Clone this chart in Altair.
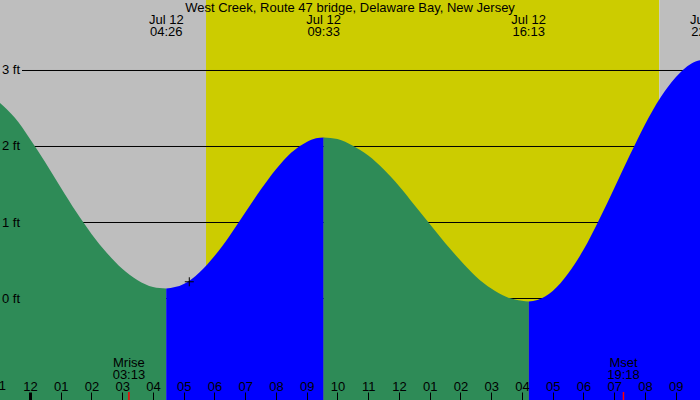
import altair as alt
import pandas as pd

TITLE = "West Creek, Route 47 bridge, Delaware Bay, New Jersey"
FONT = "Liberation Sans"

# x = hours of Jul 12, y = feet
X_MIN, X_MAX = -0.9756, 21.789
Y_MIN, Y_MAX = -1.3355, 3.9276

# tide curve, split into falling / rising stretches
fall1_h = [-1.0, -0.5, 0.0, 0.5, 1.0, 1.5, 2.0, 2.5, 3.0, 3.5, 4.0, 4.43]
fall1_v = [2.58, 2.38, 2.10, 1.79, 1.46, 1.14, 0.85, 0.60, 0.39, 0.24, 0.15, 0.13]
rise1_h = [4.43, 5.0, 5.5, 6.0, 6.5, 7.0, 7.5, 8.0, 8.5, 9.0, 9.3, 9.55]
rise1_v = [0.13, 0.19, 0.34, 0.56, 0.83, 1.13, 1.43, 1.70, 1.92, 2.06, 2.11, 2.12]
fall2_h = [9.55, 10.0, 10.5, 11.0, 11.5, 12.0, 12.5, 13.0, 13.5, 14.0, 14.5, 15.0, 15.5, 16.0, 16.22]
fall2_v = [2.12, 2.10, 2.01, 1.88, 1.70, 1.48, 1.23, 0.98, 0.73, 0.50, 0.29, 0.13, 0.02, -0.03, -0.04]
rise2_h = [16.22, 16.5, 17.0, 17.5, 18.0, 18.5, 19.0, 19.5, 20.0, 20.5, 21.0, 21.5, 22.0]
rise2_v = [-0.04, -0.02, 0.10, 0.33, 0.64, 1.03, 1.45, 1.88, 2.29, 2.64, 2.91, 3.09, 3.15]

# tide extremes shown at the top
event_h = [4.433, 9.55, 16.217, 22.03]
event_day = ["Jul 12", "Jul 12", "Jul 12", "Jul 12"]
event_time = ["04:26", "09:33", "16:13", "22:02"]

# sun: night / day bands
sunrise_h, sunset_h = 5.724, 20.465

# moon
moon_h = [3.217, 19.3]
moon_name = ["Mrise", "Mset"]
moon_time = ["03:13", "19:18"]

# marker on the curve
mark_h, mark_v = [5.18], [0.22]

# reference levels
level_ft = [0, 1, 2, 3]
level_lbl = ["0 ft", "1 ft", "2 ft", "3 ft"]
level_start_h = -0.26

hour_ticks = list(range(-1, 22))
edge_hour, edge_label = [-1], ["11"]

# ---------------- tables ----------------
rows = []
for seg, phase, hs, vs in [("a", "fall", fall1_h, fall1_v), ("b", "rise", rise1_h, rise1_v),
                           ("c", "fall", fall2_h, fall2_v), ("d", "rise", rise2_h, rise2_v)]:
    for h, v in zip(hs, vs):
        rows.append({"seg": seg, "phase": phase, "h": h, "ft": v, "floor": Y_MIN})
tide_df = pd.DataFrame(rows)

bg_df = pd.DataFrame({
    "start": [X_MIN, sunrise_h, sunset_h],
    "end": [sunrise_h, sunset_h, X_MAX],
    "kind": ["night", "day", "night"],
})
lines_df = pd.DataFrame({"ft": level_ft, "x0": [level_start_h] * 4, "x1": [X_MAX] * 4})
lvl_df = pd.DataFrame({"ft": level_ft, "label": level_lbl})
ev_df = pd.DataFrame({"h": event_h, "label": [d + "\n" + t for d, t in zip(event_day, event_time)]})
moon_df = pd.DataFrame({"h": moon_h, "label": [n + "\n" + t for n, t in zip(moon_name, moon_time)]})
mk_df = pd.DataFrame({"h": mark_h, "ft": mark_v})
edge_df = pd.DataFrame({"h": edge_hour, "label": edge_label})

xs = alt.Scale(domain=[X_MIN, X_MAX], nice=False, zero=False)
ys = alt.Scale(domain=[Y_MIN, Y_MAX], nice=False, zero=False)

xaxis = alt.Axis(
    orient="top", offset=-400, values=hour_ticks, title=None,
    domain=False, grid=False, tickSize=8, tickColor="black",
    tickWidth={"condition": {"test": "datum.value === 0", "value": 3}, "value": 1},
    labelExpr="((datum.value + 24) % 12) == 0 ? '12' : (((datum.value + 24) % 12) < 10 ? '0' + ((datum.value + 24) % 12) : '' + ((datum.value + 24) % 12))",
    labelFont=FONT, labelFontSize=13, labelColor="black", labelPadding=2,
    labelBaseline="alphabetic", labelFlush=False, labelOverlap=False, labelBound=False,
    zindex=1,
)


def X(field):
    return alt.X(field, type="quantitative", scale=xs, axis=xaxis)


def Y(field):
    return alt.Y(field, type="quantitative", scale=ys, axis=None)


bg = alt.Chart(bg_df).mark_rect().encode(
    x=X("start"), x2="end",
    color=alt.Color("kind:N", scale=alt.Scale(domain=["night", "day"], range=["#bebebe", "#cccc00"]), legend=None),
)

rules = alt.Chart(lines_df).mark_rule(color="black", strokeWidth=1).encode(
    x=X("x0"), x2="x1", y=Y("ft"),
)

area = alt.Chart(tide_df).mark_area(interpolate="monotone", clip=True).encode(
    x=X("h"),
    y=alt.Y("ft:Q", scale=ys, axis=None, stack=None),
    y2="floor:Q",
    color=alt.Color("phase:N", scale=alt.Scale(domain=["fall", "rise"], range=["#2e8b57", "#0000ff"]), legend=None),
    detail="seg:N",
)

cross = alt.Chart(mk_df).mark_point(
    shape="M -1 0 L 1 0 M 0 -1 L 0 1", size=81, filled=False, color="black", strokeWidth=1, opacity=1
).encode(x=X("h"), y=Y("ft"))

lvl_text = alt.Chart(lvl_df).mark_text(
    align="left", baseline="middle", font=FONT, fontSize=13, color="black"
).encode(x=alt.value(2), y=Y("ft"), text="label:N")

ev_text = alt.Chart(ev_df).mark_text(
    align="center", baseline="alphabetic", lineBreak="\n", lineHeight=12,
    font=FONT, fontSize=13, color="black"
).encode(x=X("h"), y=alt.value(24), text="label:N")

moon_text = alt.Chart(moon_df).mark_text(
    align="center", baseline="alphabetic", lineBreak="\n", lineHeight=11.5,
    font=FONT, fontSize=13, color="black"
).encode(x=X("h"), y=alt.value(367), text="label:N")

moon_ticks = alt.Chart(moon_df).mark_rule(color="#ff0000", strokeWidth=1.5).encode(
    x=X("h"), y=alt.value(392), y2=alt.value(400)
)

edge_text = alt.Chart(edge_df).mark_text(
    align="center", baseline="alphabetic", font=FONT, fontSize=13, color="black"
).encode(x=X("h"), y=alt.value(390), text="label:N")

title = alt.Chart(pd.DataFrame({"t": [TITLE]})).mark_text(
    align="center", baseline="alphabetic", font=FONT, fontSize=13, color="black"
).encode(x=alt.value(350), y=alt.value(12), text="t:N")

chart = alt.layer(bg, rules, area, cross, lvl_text, ev_text, moon_text, moon_ticks, edge_text, title).resolve_scale(
    color="independent"
).properties(
    width=700, height=400, padding=0, autosize=alt.AutoSizeParams(type="none")
).configure_view(stroke=None)

chart.save("out.html", embed_options={"renderer": "svg", "actions": False})
